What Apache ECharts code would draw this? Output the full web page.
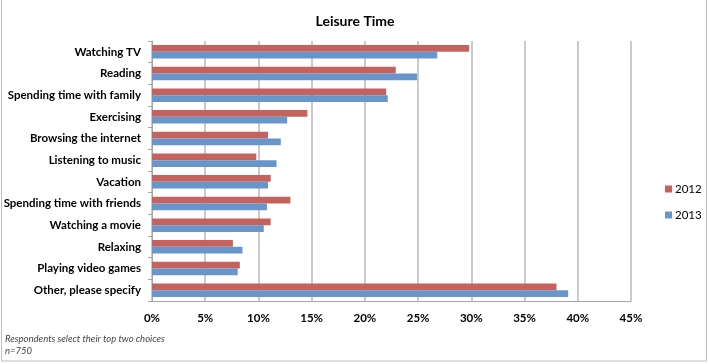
<!DOCTYPE html>
<html><head><meta charset="utf-8">
<script src="https://cdn.jsdelivr.net/npm/echarts@6/dist/echarts.min.js"></script>
<style>html,body{margin:0;padding:0;background:#fff}#c{width:710px;height:364px}</style>
</head><body><div id="c"></div>
<script>
const categories = ["Watching TV","Reading","Spending time with family","Exercising","Browsing the internet","Listening to music","Vacation","Spending time with friends","Watching a movie","Relaxing","Playing video games","Other, please specify"];
const values2012 = [29.8,22.9,22.0,14.6,10.9,9.8,11.15,13.0,11.15,7.6,8.25,38.0];
const values2013 = [26.8,24.9,22.15,12.7,12.1,11.7,10.9,10.8,10.5,8.5,8.05,39.1];
const seriesNames = ["2012","2013"];
const xTicks = [0,5,10,15,20,25,30,35,40,45];

const FONT = "Lato";
const chart = echarts.init(document.getElementById('c'), null, {renderer:'canvas'});
chart.setOption({
  backgroundColor:'#fff',
  animation:false,
  title:{text:'Leisure Time',left:'center',top:9,textStyle:{fontFamily:FONT,fontSize:14,fontWeight:'bold',color:'#000'}},
  graphic:[
    {type:'rect',shape:{x:1.5,y:-2,width:705,height:363},style:{fill:'none',stroke:'#bdbdbd',lineWidth:1},silent:true},
    {type:'text',left:5,top:333,style:{text:'Respondents select their top two choices\nn=750',fontFamily:FONT,fontStyle:'italic',fontSize:9.5,lineHeight:12,fill:'#444'}}
  ],
  legend:{orient:'vertical',left:660,top:178,itemWidth:7,itemHeight:7,itemGap:14,icon:'rect',
    textStyle:{fontFamily:FONT,fontSize:11.5,color:'#000',padding:[0,0,0,-2]},data:seriesNames},
  grid:{left:152,right:79,top:41,bottom:63,containLabel:false},
  xAxis:{type:'value',min:0,max:45,interval:5,
    axisLabel:{formatter:v=>v+'%',fontFamily:FONT,fontSize:11.5,fontWeight:'bold',color:'#000',margin:11},
    axisLine:{show:true,lineStyle:{color:'#a6a6a6',width:1}},
    axisTick:{show:false},
    splitLine:{show:true,lineStyle:{color:'#cacaca',width:2}}},
  yAxis:{type:'category',data:categories,inverse:true,
    axisLabel:{fontFamily:FONT,fontSize:11.5,fontWeight:'bold',color:'#000',margin:11},
    axisLine:{show:true,lineStyle:{color:'#a6a6a6',width:1}},
    axisTick:{show:true,length:4,lineStyle:{color:'#a6a6a6'}},
    splitLine:{show:false}},
  series:[
    {name:seriesNames[0],type:'bar',data:values2012,barGap:'0%',barCategoryGap:'38%',itemStyle:{color:'#c5625d'}},
    {name:seriesNames[1],type:'bar',data:values2013,barGap:'0%',barCategoryGap:'38%',itemStyle:{color:'#6896cb'}}
  ]
});
</script></body></html>
